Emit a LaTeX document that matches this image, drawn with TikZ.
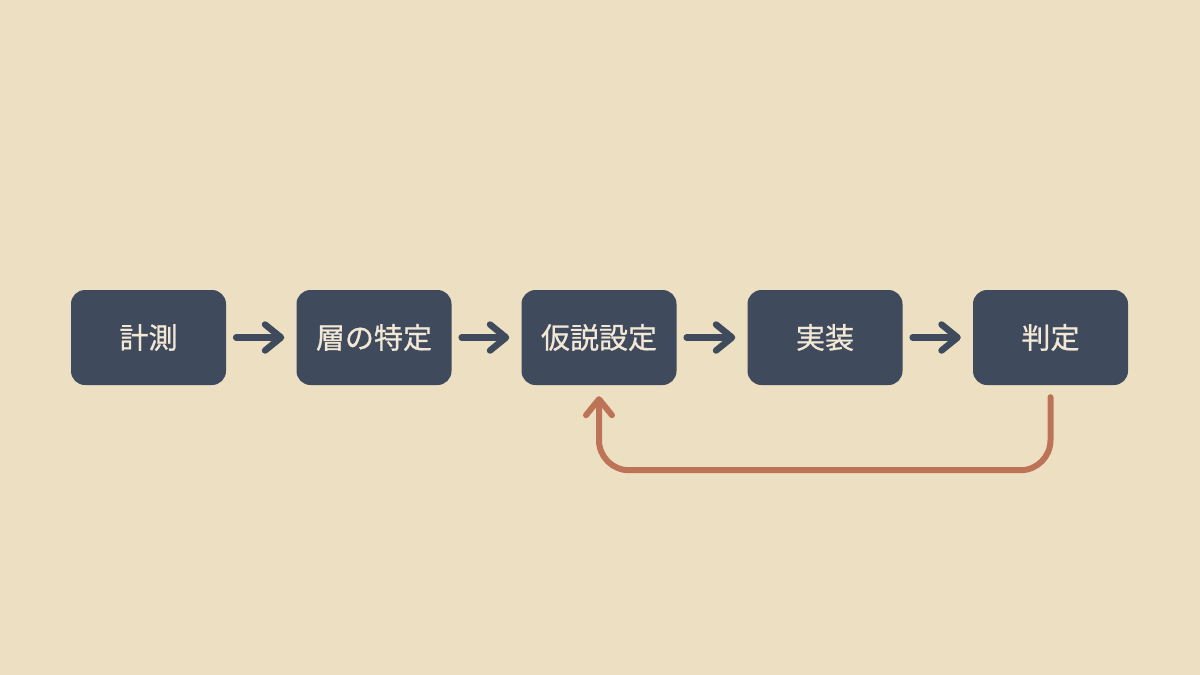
\documentclass[tikz,border=0pt]{standalone}
\usepackage{fontspec}
\newfontfamily\cjk[FakeBold=0.8]{Noto Sans CJK JP}
\usetikzlibrary{arrows.meta}
\definecolor{bg}{HTML}{EDDFC2}
\definecolor{boxc}{HTML}{3F4A5C}
\definecolor{txt}{HTML}{F2E8D5}
\definecolor{loopc}{HTML}{BD7357}
\begin{document}
\begin{tikzpicture}[x=1pt,y=-1pt,
  stepbox/.style={fill=boxc, rounded corners=14pt, minimum width=155pt, minimum height=95pt, inner sep=0pt, text=txt, font=\cjk\fontsize{29}{32}\selectfont},
  tipc/.style={-{Straight Barb[length=16pt,width=26pt,line cap=round,line join=round]}},
  flow/.style={draw=boxc, line width=6.5pt, line cap=round, tipc},
  back/.style={draw=loopc, line width=6pt, line cap=round, rounded corners=30pt, tipc}]
\fill[bg] (0,0) rectangle (1200,675);
\useasboundingbox (0,0) rectangle (1200,675);
\node[stepbox] (a) at (148.5,337.5) {計測};
\node[stepbox] (b) at (374,337.5) {層の特定};
\node[stepbox] (c) at (599,337.5) {仮説設定};
\node[stepbox] (d) at (825,337.5) {実装};
\node[stepbox] (e) at (1050.5,337.5) {判定};
\draw[flow] ([xshift=10pt]a.east) -- ([xshift=-12pt]b.west);
\draw[flow] ([xshift=10pt]b.east) -- ([xshift=-12pt]c.west);
\draw[flow] ([xshift=10pt]c.east) -- ([xshift=-12pt]d.west);
\draw[flow] ([xshift=10pt]d.east) -- ([xshift=-12pt]e.west);
\coordinate (s) at ([yshift=-12pt]e.south);
\coordinate (t) at ([yshift=-11pt]c.south);
\draw[back] (s) -- ([yshift=-73pt]s) -| (t);
\end{tikzpicture}
\end{document}
